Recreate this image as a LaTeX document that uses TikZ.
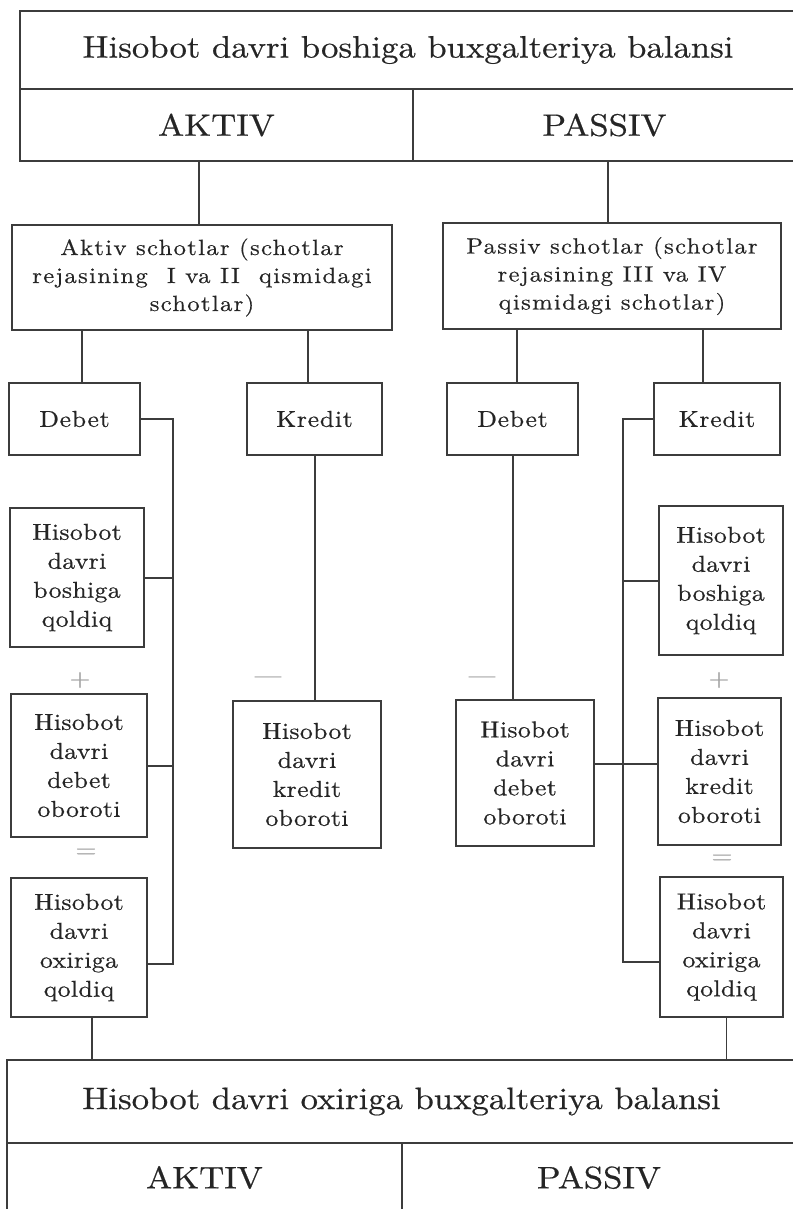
\documentclass[tikz,border=0pt]{standalone}
\usepackage{fontspec}
\setmainfont{lmroman10-regular.otf}[FakeStretch=1.12, FakeBold=0.5]
\usetikzlibrary{positioning,calc}
\definecolor{linegray}{HTML}{3C3C3C}
\definecolor{textgray}{HTML}{252525}
\definecolor{signgray}{HTML}{A0A0A0}
\tikzset{
  cellbox/.style={
    draw=linegray,
    line width=2pt,
    rectangle,
    align=center,
    inner sep=2pt,
    text=textgray
  },
  headbox/.style={
    cellbox,
    font=\fontsize{31}{37}\selectfont
  },
  acctbox/.style={
    cellbox,
    font=\fontsize{22}{28}\selectfont\addfontfeature{LetterSpace=6}
  },
  sidebox/.style={
    cellbox,
    minimum width=131pt,
    minimum height=72pt,
    font=\fontsize{23}{27}\selectfont\addfontfeature{LetterSpace=3}
  },
  sumbox/.style={
    cellbox,
    minimum width=136pt,
    minimum height=142pt,
    font=\fontsize{23}{29}\selectfont\addfontfeature{LetterSpace=1.5}
  },
  link/.style={
    draw=linegray,
    line width=2pt
  },
  thinlink/.style={
    draw=linegray,
    line width=1.1pt
  },
  sign/.style={
    text=signgray,
    font=\fontsize{24}{24}\selectfont
  }
}

\begin{document}
\begin{tikzpicture}[x=1pt, y=-1pt]
  \useasboundingbox (0,0) rectangle (792,1209);

  % balance at the start
  \node[headbox, minimum width=776pt, minimum height=78pt] (bal0) at (408,50) {Hisobot davri boshiga buxgalteriya balansi};
  \node[headbox, minimum width=393pt, minimum height=72pt] (akt0) at (216.5,125) {AKTIV};
  \node[headbox, minimum width=383pt, minimum height=72pt] (pas0) at (604.5,125) {PASSIV};

  % account groups
  \node[acctbox, minimum width=380pt, minimum height=105pt] (aktacc) at (202,277.5) {Aktiv schotlar (schotlar\\rejasining\ \ I va II\ \ qismidagi\\schotlar)};
  \node[acctbox, minimum width=338pt, minimum height=106pt] (pasacc) at (612,276) {Passiv schotlar (schotlar\\rejasining III va IV\\qismidagi schotlar)};

  \draw[link] (aktacc.north -| 199,0) -- (akt0.south -| 199,0);
  \draw[link] (pasacc.north -| 608,0) -- (pas0.south -| 608,0);

  % debet / kredit sides
  \node[sidebox] (debL) at (74.5,419) {Debet};
  \node[sidebox, minimum width=135pt] (kreL) at (314.5,419) {Kredit};
  \node[sidebox] (debR) at (512.5,419) {Debet};
  \node[sidebox, minimum width=126pt] (kreR) at (717,419) {Kredit};

  \draw[link] ([xshift=7pt]debL.north) -- ([xshift=7pt]debL.north |- aktacc.south);
  \draw[link] ([xshift=-7pt]kreL.north) -- ([xshift=-7pt]kreL.north |- aktacc.south);
  \draw[link] ([xshift=4pt]debR.north) -- ([xshift=4pt]debR.north |- pasacc.south);
  \draw[link] ([xshift=-14pt]kreR.north) -- ([xshift=-14pt]kreR.north |- pasacc.south);

  % aktiv columns
  \node[sumbox, minimum width=134pt, minimum height=139pt] (bosL) at (77,577.5) {Hisobot\\davri\\boshiga\\qoldiq};
  \node[sumbox, minimum height=143pt] (debobL) at (79,765.5) {Hisobot\\davri\\debet\\oboroti};
  \node[sumbox, minimum height=139pt] (oxL) at (79,947.5) {Hisobot\\davri\\oxiriga\\qoldiq};
  \node[sumbox, minimum width=148pt, minimum height=147pt] (kreobL) at (307,774.5) {Hisobot\\davri\\kredit\\oboroti};

  \node[sign] (plusL) at (80,680) {+};
  \node[sign] (eqL) at (86,853) {=};
  \node[sign] (minL) at (268,680) {\textemdash};

  \coordinate (lbar) at (173,0);
  \draw[link] (debL.east) -| ([yshift=-16pt]oxL.east -| lbar) -- ([yshift=-16pt]oxL.east);
  \draw[link] (bosL.east) -- (bosL.east -| lbar);
  \draw[link] (debobL.east) -- (debobL.east -| lbar);
  \draw[link] (kreL.south) -- (kreL.south |- kreobL.north);

  % passiv columns
  \node[sumbox, minimum width=124pt, minimum height=149pt] (bosR) at (721,580.5) {Hisobot\\davri\\boshiga\\qoldiq};
  \node[sumbox, minimum width=123pt, minimum height=147pt] (kreobR) at (719.5,771.5) {Hisobot\\davri\\kredit\\oboroti};
  \node[sumbox, minimum width=123pt, minimum height=140pt] (oxR) at (721.5,947) {Hisobot\\davri\\oxiriga\\qoldiq};
  \node[sumbox, minimum width=138pt, minimum height=146pt] (debobR) at (525,773) {Hisobot\\davri\\debet\\oboroti};

  \node[sign] (plusR) at (719,680) {+};
  \node[sign] (eqR) at (722,859) {=};
  \node[sign] (minR) at (482,680) {\textemdash};

  \coordinate (rbar) at (623,0);
  \draw[link] (kreR.west) -| ([yshift=-15pt]oxR.west -| rbar) -- ([yshift=-15pt]oxR.west);
  \draw[link] (bosR.west) -- (bosR.west -| rbar);
  \draw[link] ([yshift=9pt]debobR.east) -- ([yshift=9pt]debobR.east -| kreobR.west);
  \draw[link] (debR.south) -- (debR.south |- debobR.north);

  % balance at the end
  \node[headbox, minimum width=789pt, minimum height=83pt] (bal1) at (401.5,1101.5) {Hisobot davri oxiriga buxgalteriya balansi};
  \node[headbox, minimum width=395pt, minimum height=69pt] (akt1) at (204.5,1177.5) {AKTIV};
  \node[headbox, minimum width=394pt, minimum height=69pt] (pas1) at (599,1177.5) {PASSIV};

  \draw[thinlink] ([xshift=13pt]oxL.south) -- ([xshift=13pt]oxL.south |- bal1.north);
  \draw[thinlink] ([xshift=5pt]oxR.south) -- ([xshift=5pt]oxR.south |- bal1.north);
\end{tikzpicture}
\end{document}
